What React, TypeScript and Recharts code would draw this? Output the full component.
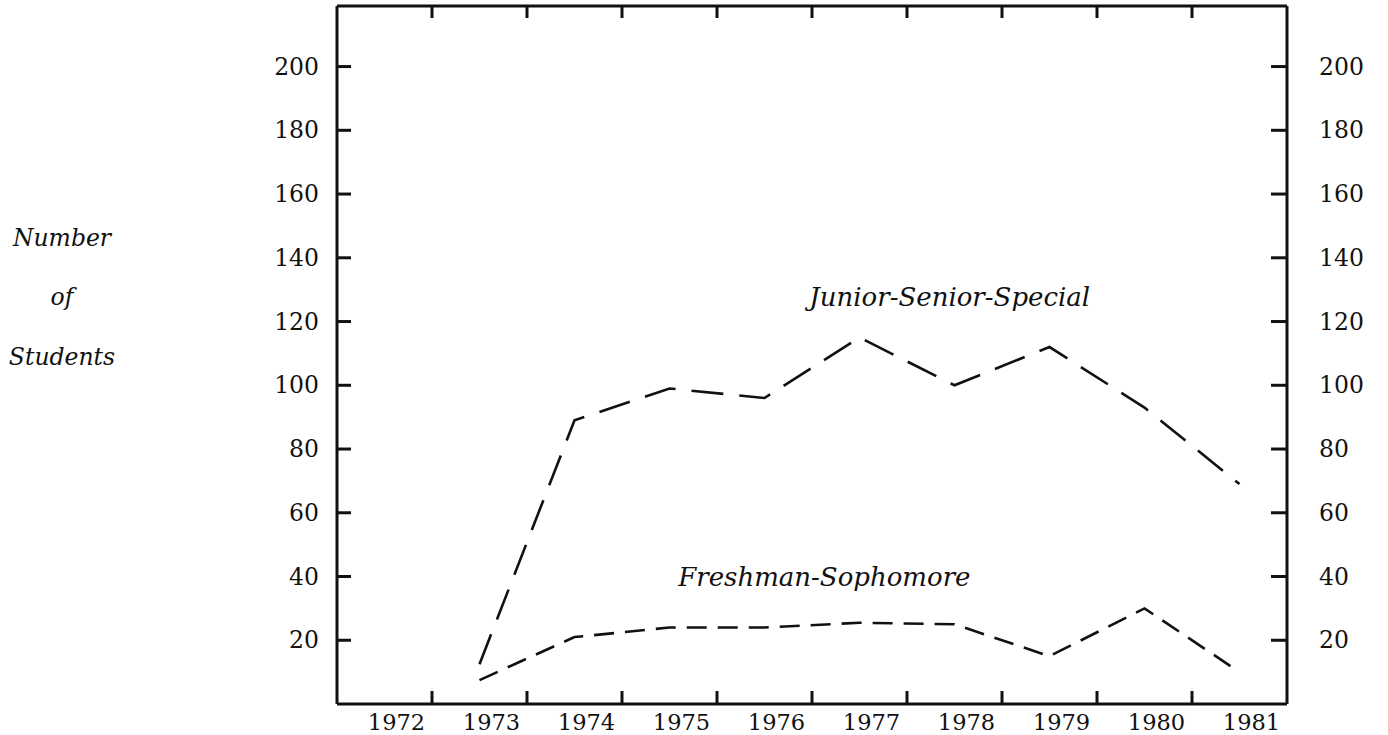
import { LineChart, Line, XAxis, YAxis, ReferenceDot } from 'recharts';

const years = [1972, 1973, 1974, 1975, 1976, 1977, 1978, 1979, 1980, 1981];
const juniorSeniorSpecial = [null, 12.5, 89, 99, 96, 115, 100, 112, 93, 69];
const freshmanSophomore = [null, 7.5, 21, 24, 24, 25.5, 25, 15, 30, 10];
const yTicks = [20, 40, 60, 80, 100, 120, 140, 160, 180, 200];

// tick marks sit on the boundaries between years
const boundaries = years.slice(1).map((y) => y - 0.5);

const data = years.map((year, i) => ({
  year,
  jss: juniorSeniorSpecial[i],
  fs: freshmanSophomore[i],
}));

const FONT = '"DejaVu Serif", serif';
const INK = '#111';

const BottomTick = ({ x, y, payload }: any) => {
  const v = payload.value;
  if (!Number.isInteger(v)) {
    return <line x1={x} y1={y} x2={x} y2={y - 13} stroke={INK} strokeWidth={3} />;
  }
  return (
    <text x={x + 12} y={y + 18} textAnchor="middle" dominantBaseline="central"
      fontFamily={FONT} fontSize={22.5} fill={INK}>
      {v}
    </text>
  );
};

const TopTick = ({ x, y }: any) => (
  <line x1={x} y1={y} x2={x} y2={y + 12} stroke={INK} strokeWidth={3} />
);

const LeftTick = ({ x, y, payload }: any) => (
  <g>
    <line x1={x} y1={y} x2={x + 14} y2={y} stroke={INK} strokeWidth={3} />
    <text x={x - 18} y={y} textAnchor="end" dominantBaseline="central"
      fontFamily={FONT} fontSize={23.5} fill={INK}>
      {payload.value}
    </text>
  </g>
);

const RightTick = ({ x, y, payload }: any) => (
  <g>
    <line x1={x} y1={y} x2={x - 16} y2={y} stroke={INK} strokeWidth={3} />
    <text x={x + 32} y={y} textAnchor="start" dominantBaseline="central"
      fontFamily={FONT} fontSize={23.5} fill={INK}>
      {payload.value}
    </text>
  </g>
);

const seriesLabel = (text: string) => (props: any) => (
  <text x={props.cx} y={props.cy} textAnchor="middle" dominantBaseline="central"
    fontFamily={FONT} fontStyle="italic" fontSize={26} fill={INK}>
    {text}
  </text>
);

const titleStyle: React.CSSProperties = {
  position: 'absolute',
  left: 2,
  width: 120,
  textAlign: 'center',
  fontFamily: FONT,
  fontStyle: 'italic',
  fontSize: 23.5,
  color: INK,
  lineHeight: '24px',
};

export default function App() {
  return (
    <div style={{ position: 'absolute', left: 0, top: 0, width: 1388, height: 735, background: '#fff' }}>
      <LineChart
        width={1388}
        height={735}
        data={data}
        margin={{ top: 5, right: 21, left: 277, bottom: 1 }}
      >
        <XAxis
          xAxisId="b"
          dataKey="year"
          type="number"
          domain={[1971.5, 1981.5]}
          allowDataOverflow
          ticks={[...years, ...boundaries]}
          interval={0}
          height={30}
          tickSize={0}
          tickMargin={0}
          tickLine={false}
          axisLine={{ stroke: INK, strokeWidth: 3 }}
          tick={<BottomTick />}
        />
        <XAxis
          xAxisId="t"
          orientation="top"
          dataKey="year"
          type="number"
          domain={[1971.5, 1981.5]}
          allowDataOverflow
          ticks={boundaries}
          interval={0}
          height={1}
          tickSize={0}
          tickMargin={0}
          tickLine={false}
          axisLine={{ stroke: INK, strokeWidth: 3 }}
          tick={<TopTick />}
        />
        <YAxis
          yAxisId="l"
          domain={[0, 219]}
          allowDataOverflow
          ticks={yTicks}
          interval={0}
          width={60}
          tickSize={0}
          tickMargin={0}
          tickLine={false}
          axisLine={{ stroke: INK, strokeWidth: 3 }}
          tick={<LeftTick />}
        />
        <YAxis
          yAxisId="r"
          orientation="right"
          domain={[0, 219]}
          allowDataOverflow
          ticks={yTicks}
          interval={0}
          width={80}
          tickSize={0}
          tickMargin={0}
          tickLine={false}
          axisLine={{ stroke: INK, strokeWidth: 3 }}
          tick={<RightTick />}
        />
        <Line
          xAxisId="b"
          yAxisId="l"
          type="linear"
          dataKey="jss"
          stroke={INK}
          strokeWidth={2.6}
          strokeDasharray="32 16"
          dot={false}
          isAnimationActive={false}
        />
        <Line
          xAxisId="b"
          yAxisId="l"
          type="linear"
          dataKey="fs"
          stroke={INK}
          strokeWidth={2.6}
          strokeDasharray="20 11"
          dot={false}
          isAnimationActive={false}
        />
        <ReferenceDot xAxisId="b" yAxisId="l" x={1977.95} y={127.7} r={0}
          shape={seriesLabel('Junior-Senior-Special')} />
        <ReferenceDot xAxisId="b" yAxisId="l" x={1976.63} y={39.8} r={0}
          shape={seriesLabel('Freshman-Sophomore')} />
      </LineChart>
      <div style={{ ...titleStyle, top: 226 }}>Number</div>
      <div style={{ ...titleStyle, top: 285 }}>of</div>
      <div style={{ ...titleStyle, top: 345 }}>Students</div>
    </div>
  );
}
